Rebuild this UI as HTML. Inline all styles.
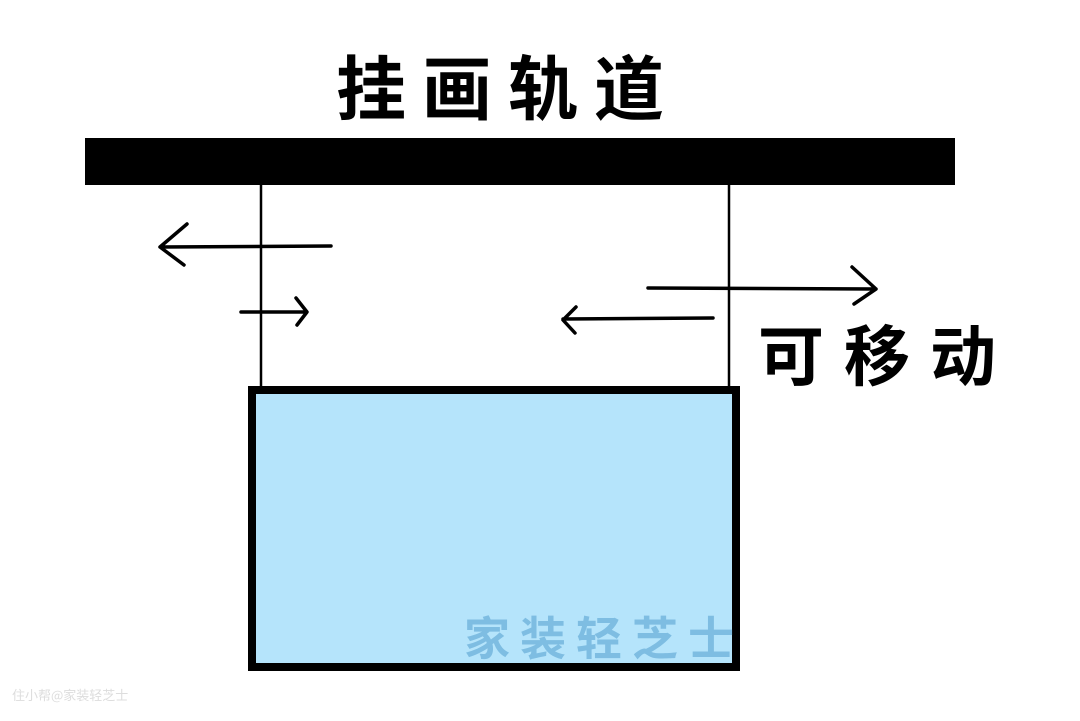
<!DOCTYPE html>
<html><head><meta charset="utf-8"><style>
html,body{margin:0;padding:0;background:#fff;width:1080px;height:721px;overflow:hidden}
</style></head><body>
<svg width="1080" height="721" viewBox="0 0 1080 721" xmlns="http://www.w3.org/2000/svg">
<rect width="1080" height="721" fill="#fff"/>
<text x="336" y="114" font-family="'Noto Sans CJK SC',sans-serif" font-weight="700" font-size="70" letter-spacing="16" fill="#000">挂画轨道</text>
<rect x="85" y="138" width="870" height="47" fill="#000"/>
<line x1="261" y1="185" x2="261" y2="390" stroke="#000" stroke-width="2.5"/>
<line x1="729" y1="185" x2="729" y2="390" stroke="#000" stroke-width="2.5"/>
<rect x="252" y="390" width="484" height="277" fill="#b5e4fb" stroke="#000" stroke-width="8"/>
<g fill="none" stroke="#000" stroke-width="3.5" stroke-linecap="round" stroke-linejoin="round">
<path d="M160 247 L331 246 M187 224 L160 247 L184 265"/>
<path d="M241 312 L306 312 M296 298 L307 312 L297 325"/>
<path d="M648 288 L876 289 M852 267 L876 289 L854 304"/>
<path d="M563 319 L713 318 M576 307 L563 320 L575 333"/>
</g>
<text x="758" y="380" font-family="'Noto Sans CJK SC',sans-serif" font-weight="700" font-size="66" letter-spacing="20" fill="#000">可移动</text>
<text x="464" y="655" font-family="'Noto Sans CJK SC',sans-serif" font-weight="700" font-size="46" letter-spacing="10" fill="#7ebde2">家装轻芝士</text>
<text x="12" y="700" font-family="'Noto Sans CJK SC',sans-serif" font-size="13" fill="#ddd">住小帮@家装轻芝士</text>
</svg>
</body></html>
